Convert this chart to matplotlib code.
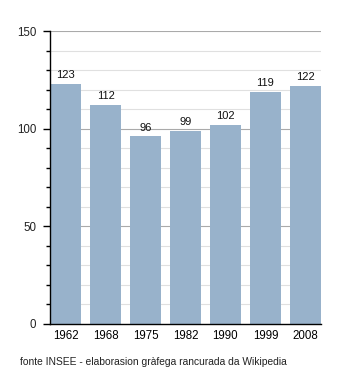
import matplotlib.pyplot as plt
from matplotlib.ticker import MultipleLocator

plt.rcParams['font.family'] = ['Liberation Sans', 'DejaVu Sans']

# Population data
years = ['1962', '1968', '1975', '1982', '1990', '1999', '2008']
population = [123, 112, 96, 99, 102, 119, 122]

fig = plt.figure(figsize=(3.5, 3.73), dpi=100)
ax = fig.add_axes([50 / 350, 1 - 324 / 373, 271 / 350, 293 / 373])

x = list(range(len(years)))
bars = ax.bar(x, population, width=0.78, color='#98b2cb', zorder=2)
for xi, v in zip(x, population):
    ax.text(xi, v + 2, str(v), ha='center', va='bottom', fontsize=8, color='#111111')

ax.set_xlim(-0.39, 6.39)
ax.set_ylim(0, 150)
ax.set_xticks(x)
ax.set_xticklabels(years)
ax.yaxis.set_major_locator(MultipleLocator(50))
ax.yaxis.set_minor_locator(MultipleLocator(10))

# grid lines: light for every 10, darker for every 50
for y in range(10, 151, 10):
    c = '#aaaaaa' if y % 50 == 0 else '#e0e0e0'
    ax.axhline(y, color=c, lw=0.8, zorder=1)

ax.spines['top'].set_visible(False)
ax.spines['right'].set_visible(False)
ax.spines['left'].set_linewidth(1.0)
ax.spines['bottom'].set_linewidth(1.0)
ax.tick_params(axis='x', length=0, pad=4, labelsize=8.3)
ax.tick_params(axis='y', which='major', length=5, width=1, pad=5, labelsize=8.3, labelcolor='#222222')
ax.tick_params(axis='y', which='minor', length=3, width=1)

fig.text(20 / 350, 1 - 362 / 373, 'fonte INSEE - elaborasion gràfega rancurada da Wikipedia',
         fontsize=7.4, va='center', ha='left', color='#222222')

plt.savefig('out.png', dpi=100)
